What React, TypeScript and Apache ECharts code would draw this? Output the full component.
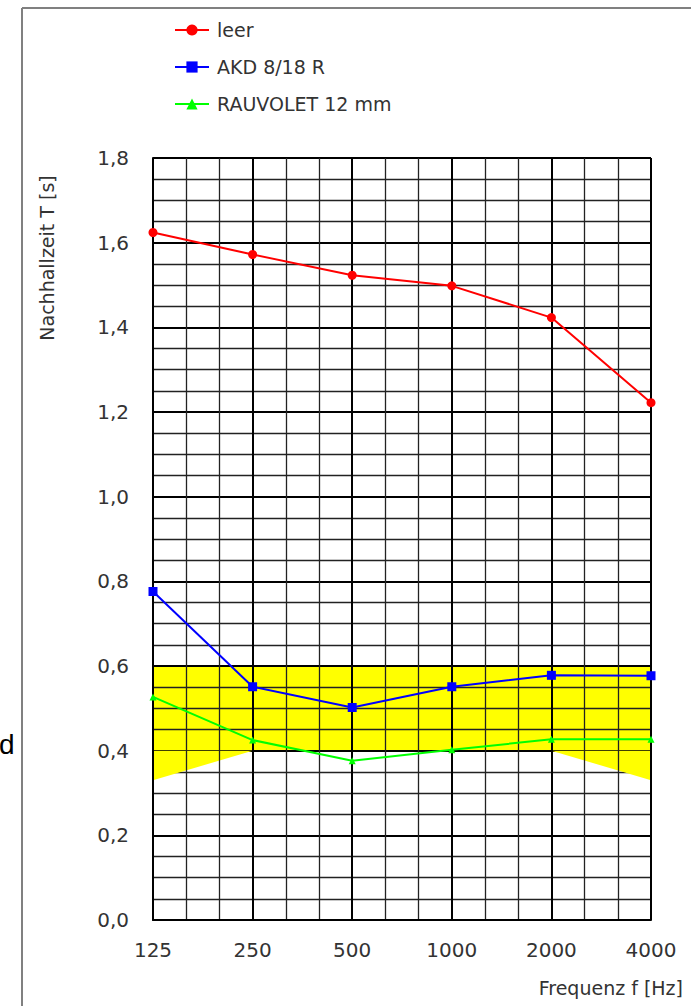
import React, { useEffect, useRef } from "react";
import * as echarts from "echarts";

const freqLabels = ["125", "250", "500", "1000", "2000", "4000"];
const leer = [1.624, 1.572, 1.523, 1.498, 1.423, 1.222];
const akd = [0.776, 0.551, 0.502, 0.551, 0.578, 0.577];
const rauvolet = [0.527, 0.425, 0.376, 0.402, 0.427, 0.427];
const bandUpper = [0.6, 0.6, 0.6, 0.6, 0.6, 0.6];
const bandLower = [0.33, 0.4, 0.4, 0.4, 0.4, 0.33];
const seriesNames = ["leer", "AKD 8/18 R", "RAUVOLET 12 mm"];
const yMin = 0;
const yMax = 1.8;
const yStep = 0.2;

const FONT = "DejaVu Sans";

export default function App() {
  const ref = useRef<HTMLDivElement>(null);
  useEffect(() => {
    if (!ref.current) return;
    const chart = echarts.init(ref.current, null, { renderer: "svg" });
    const toPairs = (arr: number[]) => arr.map((v, i) => [i, v]);
    // value first, x index second, so that stacking applies to the y value
    const toStackPairs = (arr: number[]) => arr.map((v, i) => [v, i]);

    const coreLower = Math.max(...bandLower);
    const coreUpper = Math.min(...bandUpper);
    const nIntervals = Math.round((yMax - yMin) / yStep);
    const areaColors: string[] = [];
    for (let k = 0; k < nIntervals; k++) {
      const a = yMin + k * yStep;
      const b = a + yStep;
      areaColors.push(a >= coreLower - 1e-9 && b <= coreUpper + 1e-9 ? "#ffff00" : "rgba(255,255,255,0)");
    }

    const option: any = {
      animation: false,
      backgroundColor: "#ffffff",
      legend: {
        data: seriesNames,
        orient: "vertical",
        left: 169,
        top: 15,
        itemWidth: 34,
        itemHeight: 14,
        itemGap: 17,
        textStyle: {
          fontFamily: FONT,
          fontSize: 19,
          lineHeight: 20,
          color: "#333",
          padding: [0, 0, 0, 3],
        },
      },
      grid: { left: 153, top: 158, width: 498, height: 762, containLabel: false },
      yAxis: {
        type: "value",
        min: yMin,
        max: yMax,
        interval: yStep,
        z: 0,
        axisLine: { show: true, lineStyle: { color: "#000", width: 2 } },
        axisTick: { show: false },
        axisLabel: {
          formatter: (v: number) => v.toFixed(1).replace(".", ","),
          fontFamily: FONT,
          fontSize: 20,
          color: "#333",
          margin: 24,
        },
        splitArea: { show: true, areaStyle: { color: areaColors } },
        splitLine: { show: true, lineStyle: { color: "#000", width: 2 } },
        minorTick: { show: false, splitNumber: 4 },
        minorSplitLine: { show: true, lineStyle: { color: "#222", width: 1.3 } },
      },
      xAxis: {
        type: "value",
        min: 0,
        max: 5,
        interval: 1,
        z: 4,
        axisLine: { show: true, lineStyle: { color: "#000", width: 2 } },
        axisTick: { show: false },
        axisLabel: {
          formatter: (v: number) => freqLabels[Math.round(v)],
          fontFamily: FONT,
          fontSize: 20,
          color: "#333",
          margin: 20,
        },
        splitLine: { show: true, lineStyle: { color: "#000", width: 2 } },
        minorTick: { show: false, splitNumber: 3 },
        minorSplitLine: { show: true, lineStyle: { color: "#222", width: 1.3 } },
      },
      series: [
        {
          name: "bandLower",
          type: "line",
          stack: "band",
          z: 1,
          data: toStackPairs(bandLower),
          encode: { x: 1, y: 0 },
          symbol: "none",
          lineStyle: { width: 0, opacity: 0 },
          silent: true,
        },
        {
          name: "bandEnds",
          type: "line",
          stack: "band",
          z: 1,
          data: toStackPairs(bandLower.map((l) => coreLower - l)),
          encode: { x: 1, y: 0 },
          symbol: "none",
          lineStyle: { width: 0, opacity: 0 },
          areaStyle: { color: "#ffff00", opacity: 1 },
          silent: true,
        },
        {
          name: seriesNames[0],
          type: "line",
          z: 5,
          data: toPairs(leer),
          symbol: "circle",
          symbolSize: 9,
          color: "#ff0000",
          lineStyle: { color: "#ff0000", width: 2 },
          itemStyle: { color: "#ff0000" },
        },
        {
          name: seriesNames[1],
          type: "line",
          z: 5,
          data: toPairs(akd),
          symbol: "rect",
          symbolSize: 9,
          color: "#0000ff",
          lineStyle: { color: "#0000ff", width: 2 },
          itemStyle: { color: "#0000ff" },
        },
        {
          name: seriesNames[2],
          type: "line",
          z: 5,
          data: toPairs(rauvolet),
          symbol: "triangle",
          symbolSize: 7,
          color: "#00ff00",
          lineStyle: { color: "#00ff00", width: 2 },
          itemStyle: { color: "#00ff00" },
        },
      ],
      graphic: [
        {
          type: "line",
          shape: { x1: 22, y1: 8, x2: 22, y2: 1006 },
          style: { stroke: "#808080", lineWidth: 2 },
        },
        {
          type: "line",
          shape: { x1: 22, y1: 8, x2: 691, y2: 8 },
          style: { stroke: "#808080", lineWidth: 2 },
        },
        {
          type: "text",
          x: -1,
          y: 744,
          style: {
            text: "d",
            font: "28px 'Liberation Sans'",
            fill: "#000",
            align: "left",
            verticalAlign: "middle",
          },
        },
        {
          type: "text",
          x: 47,
          y: 258,
          rotation: Math.PI / 2,
          style: {
            text: "Nachhallzeit T [s]",
            font: "19px 'DejaVu Sans'",
            fill: "#333",
            align: "center",
            verticalAlign: "middle",
          },
        },
        {
          type: "text",
          x: 683,
          y: 988,
          style: {
            text: "Frequenz f [Hz]",
            font: "19px 'DejaVu Sans'",
            fill: "#333",
            align: "right",
            verticalAlign: "middle",
          },
        },
      ],
    };
    chart.setOption(option);
    return () => chart.dispose();
  }, []);
  return (
    <div
      ref={ref}
      style={{ position: "absolute", left: 0, top: 0, width: 691, height: 1006 }}
    />
  );
}
